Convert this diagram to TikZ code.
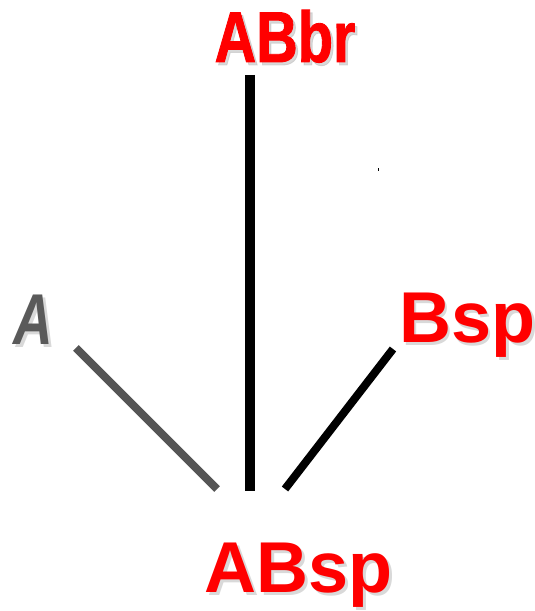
\documentclass[tikz,border=0pt]{standalone}
\usepackage{fontspec}
\setmainfont{Liberation Sans}
\newfontfamily\narrowfont[FakeStretch=0.8,BoldFeatures={FakeBold=1.2}]{Liberation Sans}
\definecolor{lblred}{RGB}{255,0,0}
\definecolor{lblgray}{RGB}{90,90,90}
\definecolor{edgegray}{RGB}{85,85,85}
\begin{document}
\begin{tikzpicture}[x=1pt,y=1pt,
  lbl/.style={inner sep=0pt,anchor=base,font=\fontsize{72}{72}\selectfont\bfseries},
  shade/.style={lbl,text=black!25,opacity=0.6},
  edge/.style={line width=#1,line cap=butt}]
\useasboundingbox (0,0) rectangle (535,611);
% soft shadows behind the labels
\node[shade] at (287.5,546) {\narrowfont\bfseries ABbr};
\node[shade] at (470,265) {Bsp};
\node[shade] at (36,263) {\scalebox{0.76}[1]{\itshape A}};
\node[shade] at (301.5,16) {ABsp};
% labels
\node[lbl,text=lblred] (abbr) at (285,549) {\narrowfont\bfseries ABbr};
\node[lbl,text=lblred] (bsp) at (467.5,268) {Bsp};
\node[lbl,text=lblgray] (a) at (33.5,266) {\scalebox{0.76}[1]{\itshape A}};
\node[lbl,text=lblred] (absp) at (299,19) {ABsp};
% line ends
\coordinate (vtop) at (250,536);
\coordinate (vbot) at (250,120);
\coordinate (ltop) at (76,263);
\coordinate (lbot) at (217,122);
\coordinate (rtop) at (393,262);
\coordinate (rbot) at (285,122);
% edges
\draw[edge=10pt,black] (vtop) -- (vbot);
\draw[edge=8pt,edgegray] (ltop) -- (lbot);
\draw[edge=8pt,black] (rtop) -- (rbot);
% small stray mark
\fill[black] (377.5,439.5) rectangle (379,442.5);
\end{tikzpicture}
\end{document}
